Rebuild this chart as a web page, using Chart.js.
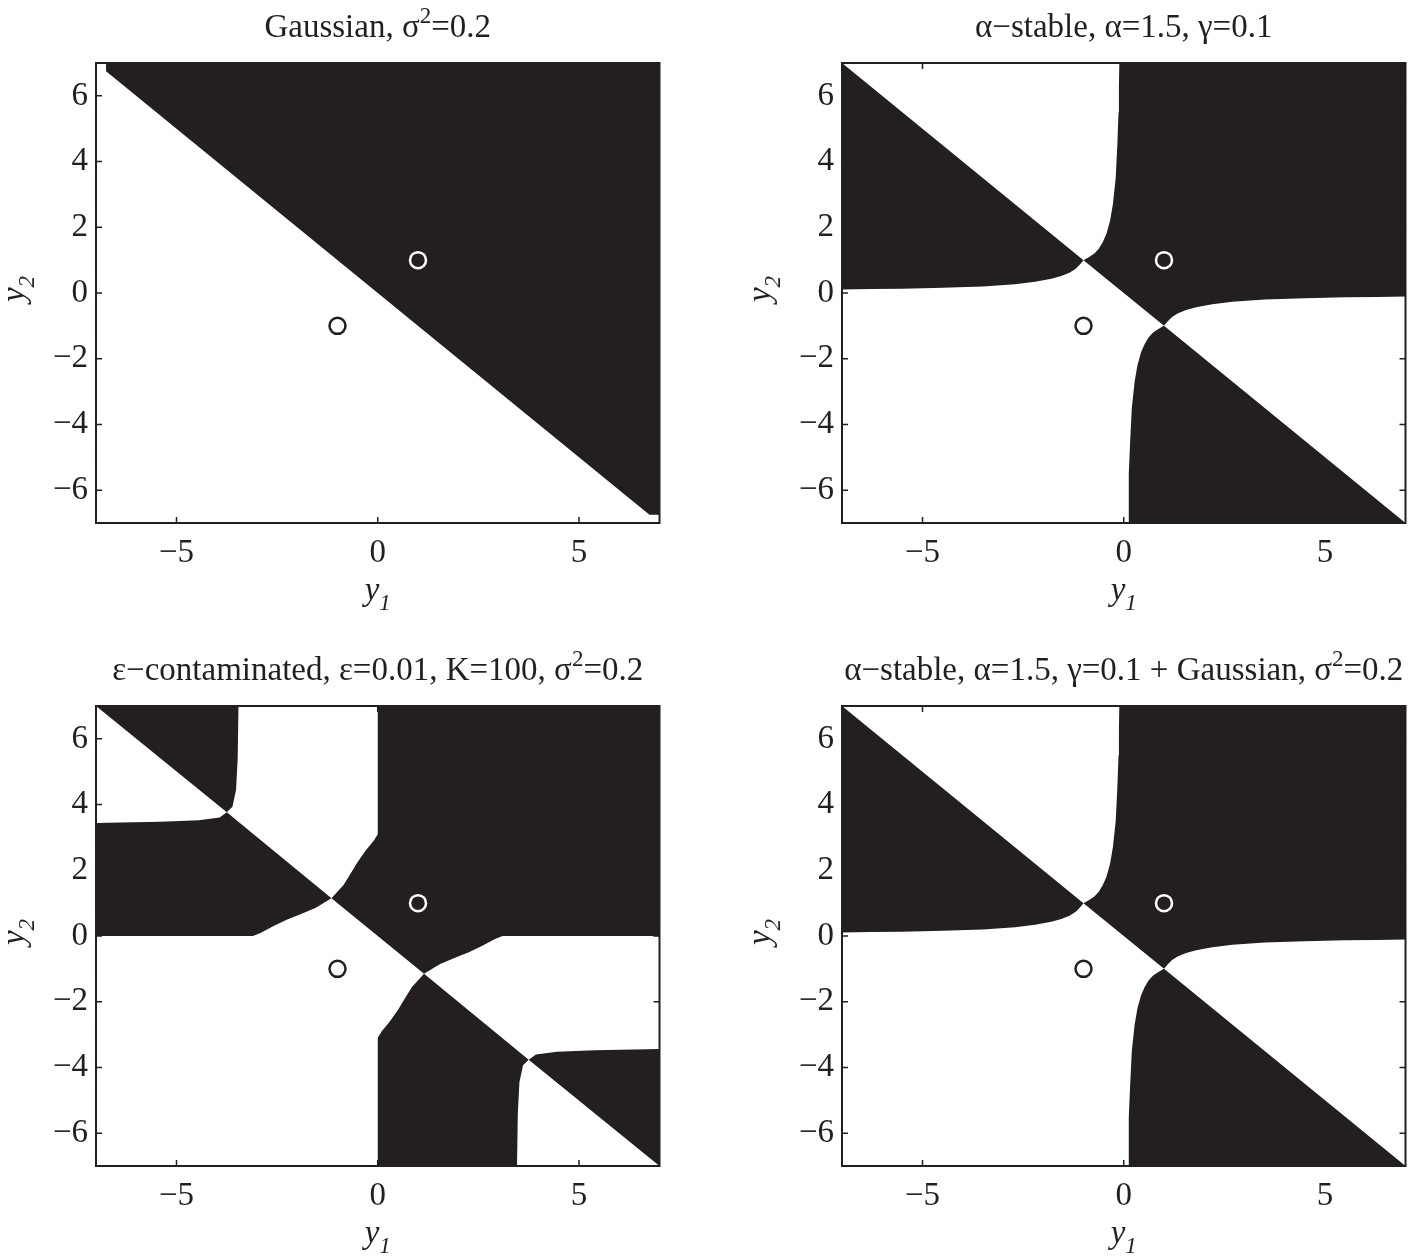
<!DOCTYPE html>
<html>
<head>
<meta charset="utf-8">
<script src="https://cdn.jsdelivr.net/npm/chart.js@4.4.1/dist/chart.umd.min.js"></script>
<style>
  html, body { margin: 0; padding: 0; background: #fff; overflow: hidden; }
  #wrap { position: relative; width: 1416px; height: 1256px; }
  .panel { position: absolute; width: 670px; height: 613px; }
</style>
</head>
<body>
<div id="wrap">
  <canvas id="p1" class="panel" width="670" height="613" style="left:0;top:0"></canvas>
  <canvas id="p2" class="panel" width="670" height="613" style="left:746px;top:0"></canvas>
  <canvas id="p3" class="panel" width="670" height="613" style="left:0;top:643px"></canvas>
  <canvas id="p4" class="panel" width="670" height="613" style="left:746px;top:643px"></canvas>
</div>
<script>
// axis ticks
const xTicks = [-5, 0, 5];
const yTicks = [-6, -4, -2, 0, 2, 4, 6];

// the two signal points, (-1,-1) and (1,1)
const signalPoints = [[-1, -1], [1, 1]];

// titles: [text, kind] where kind is '' or 'sup'
const titleGauss = [['Gaussian, \u03c3', ''], ['2', 'sup'], ['=0.2', '']];
const titleStable = [['\u03b1\u2212stable, \u03b1=1.5, \u03b3=0.1', '']];
const titleContam = [['\u03b5\u2212contaminated, \u03b5=0.01, K=100, \u03c3', ''], ['2', 'sup'], ['=0.2', '']];
const titleMixed = [['\u03b1\u2212stable, \u03b1=1.5, \u03b3=0.1 + Gaussian, \u03c3', ''], ['2', 'sup'], ['=0.2', '']];
const xLabel = [['y', ''], ['1', 'sub']];
const yLabel = [['y', ''], ['2', 'sub']];

// black decision regions, polygons in (y1, y2)
const gaussBlack = [[-6.75, 7], [7, 7], [7, -6.75], [6.75, -6.75], [-6.75, 6.75]];

const stableTopLeft = [[-7, 7], [-1, 1], [-1.1, 0.85], [-1.2, 0.73], [-1.35, 0.62], [-1.55, 0.52],
  [-1.8, 0.43], [-2.2, 0.34], [-2.7, 0.27], [-3.5, 0.2], [-4.5, 0.16], [-5.5, 0.13], [-6.3, 0.12], [-7, 0.11]];
const stableTopRight = [[-1, 1], [-0.85, 1.1], [-0.73, 1.2], [-0.62, 1.35], [-0.52, 1.55], [-0.43, 1.8],
  [-0.34, 2.2], [-0.27, 2.7], [-0.2, 3.5], [-0.16, 4.5], [-0.13, 5.5], [-0.12, 6.3], [-0.11, 7], [7, 7],
  [7, -0.11], [6.3, -0.12], [5.5, -0.13], [4.5, -0.16], [3.5, -0.2], [2.7, -0.27], [2.2, -0.34], [1.8, -0.43],
  [1.55, -0.52], [1.35, -0.62], [1.2, -0.73], [1.1, -0.85], [1, -1]];
const stableBottomRight = [[1, -1], [7, -7], [0.11, -7], [0.12, -6.3], [0.13, -5.5], [0.16, -4.5], [0.2, -3.5],
  [0.27, -2.7], [0.34, -2.2], [0.43, -1.8], [0.52, -1.55], [0.62, -1.35], [0.73, -1.2], [0.85, -1.1]];

const contamTopLeft = [[-7, 7], [-3.46, 7], [-3.48, 5.4], [-3.52, 4.45], [-3.61, 3.93], [-3.75, 3.77]];
const contamMidLeft = [[-7, 3.44], [-5.4, 3.48], [-4.45, 3.52], [-3.93, 3.61], [-3.75, 3.77], [-1.15, 1.15],
  [-1.55, 0.85], [-1.95, 0.65], [-2.25, 0.5], [-2.6, 0.3], [-2.9, 0.1], [-3.1, 0], [-7, 0]];
const contamMain = [[0, 7], [7, 7], [7, 0], [3.1, 0], [2.9, -0.1], [2.6, -0.3], [2.25, -0.5], [1.95, -0.65],
  [1.55, -0.85], [1.15, -1.15], [-1.15, 1.15], [-0.85, 1.55], [-0.65, 1.95], [-0.5, 2.25], [-0.3, 2.6],
  [-0.1, 2.9], [0, 3.1]];
const contamLowMid = [[1.15, -1.15], [3.75, -3.77], [3.61, -3.93], [3.52, -4.45], [3.48, -5.4], [3.46, -7],
  [0, -7], [0, -3.1], [0.1, -2.9], [0.3, -2.6], [0.5, -2.25], [0.65, -1.95], [0.85, -1.55]];
const contamLowRight = [[3.75, -3.77], [3.93, -3.61], [4.45, -3.52], [5.4, -3.48], [7, -3.44], [7, -7]];

const ink = '#231f20';
const serif = "'Liberation Serif', 'Times New Roman', serif";

const toXY = list => list.map(([x, y]) => ({ x, y }));
const fmt = v => (v < 0 ? '\u2212' + Math.abs(v) : String(v));

function regionDataset(poly) {
    return {
        data: toXY(poly),
        showLine: true,
        fill: 'shape',
        backgroundColor: ink,
        borderColor: ink,
        borderWidth: 0,
        pointRadius: 0,
        tension: 0,
        order: 2
    };
}

function drawParts(ctx, parts, x, y, size, italic) {
    const fontOf = kind => (italic ? 'italic ' : '') + (kind ? Math.round(size * 0.7) : size) + 'px ' + serif;
    let total = 0;
    const widths = parts.map(([t, kind]) => {
        ctx.font = fontOf(kind);
        const w = ctx.measureText(t).width;
        total += w;
        return w;
    });
    let cx = x - total / 2;
    ctx.textAlign = 'left';
    ctx.textBaseline = 'alphabetic';
    ctx.fillStyle = ink;
    parts.forEach(([t, kind], i) => {
        ctx.font = fontOf(kind);
        const dy = kind === 'sup' ? -size * 0.42 : kind === 'sub' ? size * 0.3 : 0;
        ctx.fillText(t, cx, y + dy);
        cx += widths[i];
    });
}

// box with inward ticks on all four sides, like the original figure
const boxPlugin = {
    id: 'boxTicks',
    afterDatasetsDraw(chart) {
        const { ctx, chartArea: a, scales: { x, y } } = chart;
        ctx.save();
        ctx.strokeStyle = ink;
        ctx.lineWidth = 1.5;
        ctx.beginPath();
        xTicks.forEach(v => {
            const px = x.getPixelForValue(v);
            ctx.moveTo(px, a.bottom); ctx.lineTo(px, a.bottom - 6);
            ctx.moveTo(px, a.top); ctx.lineTo(px, a.top + 6);
        });
        yTicks.forEach(v => {
            const py = y.getPixelForValue(v);
            ctx.moveTo(a.left, py); ctx.lineTo(a.left + 6, py);
            ctx.moveTo(a.right, py); ctx.lineTo(a.right - 6, py);
        });
        ctx.stroke();
        ctx.lineWidth = 2;
        ctx.strokeRect(a.left, a.top, a.right - a.left, a.bottom - a.top);
        ctx.restore();
    }
};

function textPlugin(title) {
    return {
        id: 'panelText',
        afterDraw(chart) {
            const { ctx, chartArea: a } = chart;
            const cx = (a.left + a.right) / 2;
            const cy = (a.top + a.bottom) / 2;
            ctx.save();
            drawParts(ctx, title, cx, a.top - 26, 33, false);
            drawParts(ctx, xLabel, cx, a.bottom + 77, 33, true);
            ctx.translate(24, cy - 4);
            ctx.rotate(-Math.PI / 2);
            drawParts(ctx, yLabel, 0, 0, 33, true);
            ctx.restore();
        }
    };
}

function makePanel(canvasId, title, regions) {
    const ctx = document.getElementById(canvasId).getContext('2d');
    const tickFont = { family: serif, size: 33 };

    const datasets = [{
        data: toXY(signalPoints),
        pointRadius: 8,
        pointBorderWidth: 2.5,
        pointBackgroundColor: 'rgba(0,0,0,0)',
        pointBorderColor: [ink, '#ffffff'],
        showLine: false,
        clip: false,
        order: 0
    }].concat(regions.map(regionDataset));

    return new Chart(ctx, {
        type: 'scatter',
        data: { datasets },
        options: {
            responsive: false,
            animation: false,
            events: [],
            layout: { padding: { left: 0, top: 63, right: 7, bottom: 30 } },
            plugins: {
                legend: { display: false },
                tooltip: { enabled: false },
                title: { display: false }
            },
            scales: {
                x: {
                    type: 'linear', min: -7, max: 7,
                    grid: { display: false, drawTicks: false },
                    border: { display: false },
                    afterBuildTicks: s => { s.ticks = xTicks.map(value => ({ value })); },
                    afterFit: s => { s.height = 60; },
                    ticks: { font: tickFont, color: ink, padding: 11, maxRotation: 0, callback: fmt }
                },
                y: {
                    type: 'linear', min: -7, max: 7,
                    grid: { display: false, drawTicks: false },
                    border: { display: false },
                    afterBuildTicks: s => { s.ticks = yTicks.map(value => ({ value })); },
                    afterFit: s => { s.width = 96; },
                    ticks: { font: tickFont, color: ink, padding: 8, callback: fmt }
                }
            }
        },
        plugins: [boxPlugin, textPlugin(title)]
    });
}

makePanel('p1', titleGauss, [gaussBlack]);
makePanel('p2', titleStable, [stableTopLeft, stableTopRight, stableBottomRight]);
makePanel('p3', titleContam, [contamTopLeft, contamMidLeft, contamMain, contamLowMid, contamLowRight]);
makePanel('p4', titleMixed, [stableTopLeft, stableTopRight, stableBottomRight]);
</script>
</body>
</html>
